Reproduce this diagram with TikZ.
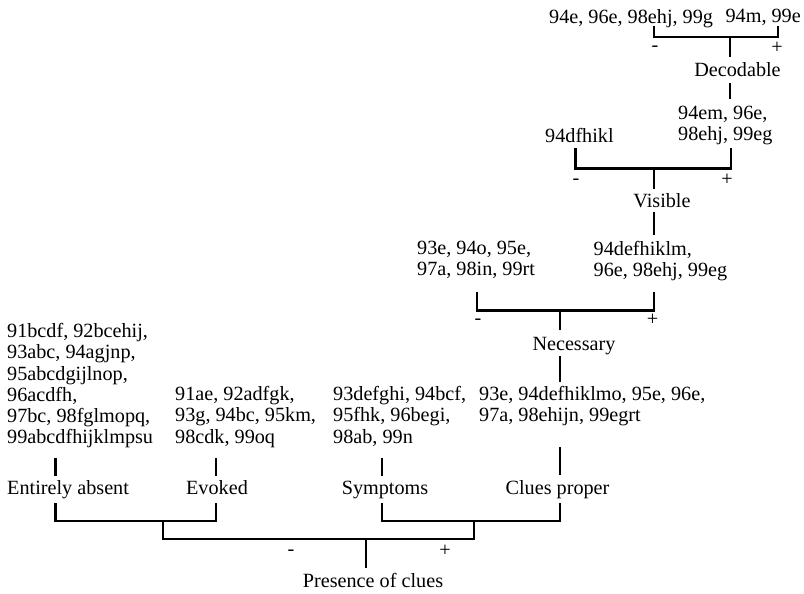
\documentclass[tikz,border=0pt]{standalone}
\usepackage{fontspec}
\setmainfont{Liberation Serif}
\begin{document}
\begin{tikzpicture}[x=1pt,y=-1pt,
  txt/.style={font=\fontsize{20.2}{21.2}\selectfont, inner sep=0pt, align=left, anchor=north west},
  lab/.style={font=\fontsize{20.2}{21.2}\selectfont, inner sep=0pt, anchor=base},
  sg/.style={font=\fontsize{20.2}{21.2}\selectfont, inner sep=0pt, anchor=center},
  ln/.style={line width=2.7pt}]
\useasboundingbox (0,0) rectangle (804,594);

% ---- Decodable
\node[txt] (dm) at (549,9.2) {94e, 96e, 98ehj, 99g};
\node[txt, anchor=north east] (dp) at (801,9.2) {94m, 99e};
\node[sg] (dmi) at (655,49) {-};
\node[sg] (dpl) at (777,47.5) {+};
\node[lab] (dec) at (737.5,76.8) {Decodable};
\coordinate (dL) at (654,26.5); \coordinate (dR) at (778,26.5);
\coordinate (dC) at (730,37);   \coordinate (dS) at (730,57);
\coordinate (dT1) at (730,83);  \coordinate (dT2) at (730,99);
\draw[ln] (dL) |- (dC) -| (dR);
\draw[ln] (dC) -- (dS);
\draw[ln] (dT1) -- (dT2);

% ---- Visible
\node[txt] (vp) at (678,106.2) {94em, 96e,\\98ehj, 99eg};
\node[txt] (vm) at (545,127.7) {94dfhikl};
\node[sg] (vmi) at (576,182) {-};
\node[sg] (vpl) at (727,180) {+};
\node[lab] (vis) at (662,207.5) {Visible};
\coordinate (vL) at (575.5,148); \coordinate (vR) at (731,148);
\coordinate (vC) at (654,168.5); \coordinate (vS) at (654,189);
\coordinate (vT1) at (654,212);  \coordinate (vT2) at (654,235);
\draw[ln] (vL) |- (vC) -| (vR);
\draw[ln] (vC) -- (vS);
\draw[ln] (vT1) -- (vT2);

% ---- Necessary
\node[txt] (nm) at (417,241.2) {93e, 94o, 95e,\\97a, 98in, 99rt};
\node[txt] (np) at (593.5,241.2) {94defhiklm,\\96e, 98ehj, 99eg};
\node[sg] (nmi) at (478,322) {-};
\node[sg] (npl) at (652.6,320) {+};
\node[lab] (nec) at (574,350) {Necessary};
\coordinate (nL) at (477,291.5); \coordinate (nR) at (654,291.5);
\coordinate (nC) at (560,310.5); \coordinate (nS) at (560,330);
\coordinate (nT1) at (560,356);  \coordinate (nT2) at (560,382);
\draw[ln] (nL) |- (nC) -| (nR);
\draw[ln] (nC) -- (nS);
\draw[ln] (nT1) -- (nT2);

% ---- lower level
\node[txt] (ea) at (7,323.2) {91bcdf, 92bcehij,\\93abc, 94agjnp,\\95abcdgijlnop,\\96acdfh,\\97bc, 98fglmopq,\\99abcdfhijklmpsu};
\node[txt] (ev) at (175,386.2) {91ae, 92adfgk,\\93g, 94bc, 95km,\\98cdk, 99oq};
\node[txt] (sy) at (333,386.2) {93defghi, 94bcf,\\95fhk, 96begi,\\98ab, 99n};
\node[txt] (cp) at (479,386.2) {93e, 94defhiklmo, 95e, 96e,\\97a, 98ehijn, 99egrt};

\node[lab, anchor=base west] (lea) at (7,494) {Entirely absent};
\node[lab] (lev) at (217,494) {Evoked};
\node[lab] (lsy) at (385,494) {Symptoms};
\node[lab] (lcp) at (557.5,494) {Clues proper};

\coordinate (eaT1) at (55.5,458); \coordinate (eaT2) at (55.5,476);
\coordinate (evT1) at (216,458);  \coordinate (evT2) at (216,476);
\coordinate (syT1) at (382,458);  \coordinate (syT2) at (382,476);
\coordinate (cpT1) at (560,447);  \coordinate (cpT2) at (560,475);
\draw[ln] (eaT1) -- (eaT2);
\draw[ln] (evT1) -- (evT2);
\draw[ln] (syT1) -- (syT2);
\draw[ln] (cpT1) -- (cpT2);

% ---- bottom brackets
\coordinate (aL) at (55.5,503); \coordinate (aR) at (216,503); \coordinate (aC) at (163,521);
\coordinate (bL) at (382,503);  \coordinate (bR) at (560,503); \coordinate (bC) at (474,521);
\coordinate (pC) at (366,539);  \coordinate (pS) at (366,568);
\draw[ln] (aL) |- (aC) -| (aR);
\draw[ln] (bL) |- (bC) -| (bR);
\draw[ln] (aC) |- (pC) -| (bC);
\draw[ln] (pC) -- (pS);
\node[sg] (pmi) at (291,553) {-};
\node[sg] (ppl) at (445,551) {+};
\node[lab] (pc) at (373,587) {Presence of clues};
\end{tikzpicture}
\end{document}
